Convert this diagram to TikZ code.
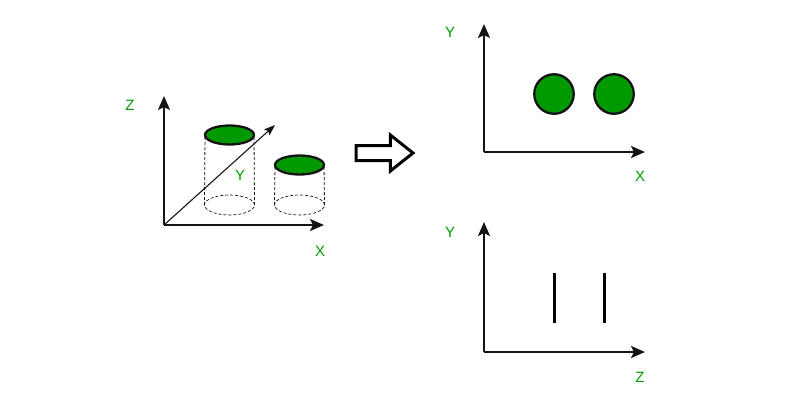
\documentclass[tikz,border=0pt]{standalone}
\usepackage{fontspec}
\setmainfont{Liberation Sans}
\usetikzlibrary{arrows.meta,calc,positioning,shapes}
\definecolor{my_green}{RGB}{0, 153, 0}
\definecolor{my_black}{RGB}{20, 20, 20}
\tikzset{
  axis/.style = {-{Stealth[length=14pt,width=12pt,inset=3pt]}, line width=2.3pt, my_black},
  thinaxis/.style = {-{Stealth[length=11pt,width=8pt,inset=2pt]}, line width=1.1pt, my_black},
  axislabel/.style = {inner sep=0pt, text=my_green, font=\fontsize{15}{15}\selectfont},
  disc/.style = {ellipse, draw=my_black, fill=my_green, line width=2.3pt, inner sep=0pt, outer sep=0pt, minimum width=49pt, minimum height=19pt},
  rim/.style = {ellipse, draw=my_black, densely dashed, line width=.7pt, inner sep=0pt, outer sep=0pt, minimum width=50pt, minimum height=20pt},
  ball/.style = {circle, draw=my_black, fill=my_green, line width=2.3pt, inner sep=0pt, minimum size=39.5pt},
  edgeline/.style = {my_black, densely dashed, line width=.8pt}
}
\begin{document}
\begin{tikzpicture}[x=1pt,y=-1pt]
  \useasboundingbox (0,0) rectangle (800,400);
  % left axes
  \coordinate (o) at (164,225);
  \coordinate (z_end) at (164,96);
  \coordinate (x_end) at (324,225);
  \coordinate (y_end) at (275,125);
  \draw [axis] (o) -- (z_end);
  \draw [axis] (o) -- (x_end);
  \draw [thinaxis] (o) -- (y_end);
  \node [axislabel] (z_label) at (130,105) {Z};
  \node [axislabel] (x_label) at (320,251) {X};
  \node [axislabel] (y_label) at (240,175) {Y};
  % cylinders
  \node [rim] (base_a) at (229.5,205) {};
  \node [rim] (base_b) at (299.5,205) {};
  \draw [edgeline] (base_a.west) -- (205,135);
  \draw [edgeline] (base_a.east) -- (254,135);
  \draw [edgeline] (base_b.west) -- (275,165);
  \draw [edgeline] (base_b.east) -- (324,165);
  \node [disc] (top_a) at (229.5,135) {};
  \node [disc] (top_b) at (299.5,165) {};
  % big arrow
  \node [single arrow, draw=black, fill=white, line width=3pt, inner sep=6pt, outer sep=0pt,
    minimum height=57pt, single arrow head extend=10.5pt, single arrow tip angle=77,
    anchor=tip] (view_arrow) at (413,153) {};
  % top view
  \coordinate (o_top) at (484,152);
  \coordinate (y_top) at (484,24);
  \coordinate (x_top) at (645,152);
  \draw [axis] (o_top) -- (y_top);
  \draw [axis] (o_top) -- (x_top);
  \node [axislabel] (y_top_label) at (450,32) {Y};
  \node [axislabel] (x_top_label) at (640,176) {X};
  \node [ball] (ball_a) at (554,94) {};
  \node [ball] (ball_b) at (614,94) {};
  % side view
  \coordinate (o_side) at (484,352);
  \coordinate (y_side) at (484,222);
  \coordinate (z_side) at (645,352);
  \draw [axis] (o_side) -- (y_side);
  \draw [axis] (o_side) -- (z_side);
  \node [axislabel] (y_side_label) at (450,232) {Y};
  \node [axislabel] (z_side_label) at (640,377) {Z};
  \coordinate (bar_a1) at (554,273);
  \coordinate (bar_a2) at (554,323);
  \coordinate (bar_b1) at (604,273);
  \coordinate (bar_b2) at (604,323);
  \draw [line width=3pt] (bar_a1) -- (bar_a2);
  \draw [line width=3pt] (bar_b1) -- (bar_b2);
\end{tikzpicture}
\end{document}
